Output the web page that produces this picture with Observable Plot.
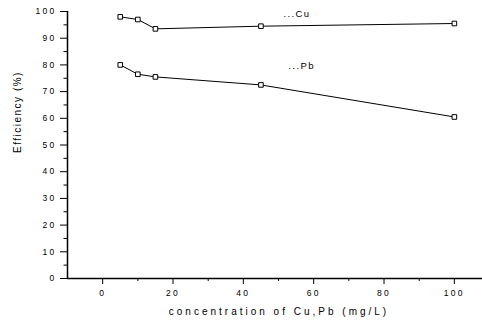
<!DOCTYPE html>
<html>
<head>
<meta charset="utf-8">
<script src="https://cdn.jsdelivr.net/npm/d3@7"></script>
<script src="https://cdn.jsdelivr.net/npm/@observablehq/plot@0.6"></script>
<style>
  html, body { margin: 0; padding: 0; background: #fff; }
  svg text { font-family: "Liberation Sans", Arial, sans-serif; letter-spacing: 2.3px; }
  g.slbl text, .slbl text { letter-spacing: 1.4px; }
  g.xlbl text, .xlbl text { letter-spacing: 3px; }
  g.ylbl text, .ylbl text { letter-spacing: 1.5px; }
</style>
</head>
<body>
<div id="chart"></div>
<script>
const concentration = [5, 10, 15, 45, 100];
const cuEfficiency = [98, 97, 93.5, 94.5, 95.5];
const pbEfficiency = [80, 76.5, 75.5, 72.5, 60.5];
const xTicks = [0, 20, 40, 60, 80, 100];
const xMinor = [10, 30, 50, 70, 90];
const yTicks = [0, 10, 20, 30, 40, 50, 60, 70, 80, 90, 100];
const yMinor = [5, 15, 25, 35, 45, 55, 65, 75, 85, 95];
const seriesLabels = [
  {x: 51.4, y: 99.2, text: "...Cu"},
  {x: 52.8, y: 79.6, text: "...Pb"}
];
const xLabel = "concentration of Cu,Pb (mg/L)";
const yLabel = "Efficiency (%)";

const cu = concentration.map((c, i) => ({c, e: cuEfficiency[i]}));
const pb = concentration.map((c, i) => ({c, e: pbEfficiency[i]}));

const chart = Plot.plot({
  width: 482,
  height: 321,
  marginLeft: 67,
  marginRight: 0,
  marginTop: 11,
  marginBottom: 43,
  style: {background: "#fff", color: "#000", fontFamily: "Liberation Sans, Arial, sans-serif"},
  x: {domain: [-10, 108]},
  y: {domain: [0, 100]},
  marks: [
    Plot.axisX({ticks: xTicks, tickSize: 6, tickPadding: 5, fontSize: 8.5, label: null, tickFormat: d => d}),
    Plot.axisX({ticks: xMinor, tickSize: 3, tickFormat: () => "", label: null}),
    Plot.axisY({ticks: yTicks, tickSize: 7, tickPadding: 4, fontSize: 8.5, label: null, tickFormat: d => d}),
    Plot.axisY({ticks: yMinor, tickSize: 3.5, tickFormat: () => "", label: null}),
    Plot.ruleY([0], {stroke: "#000", strokeWidth: 1.5}),
    Plot.ruleX([-10], {stroke: "#000", strokeWidth: 1.5}),
    Plot.line(cu, {x: "c", y: "e", stroke: "#000", strokeWidth: 1}),
    Plot.line(pb, {x: "c", y: "e", stroke: "#000", strokeWidth: 1}),
    Plot.dot(cu, {x: "c", y: "e", symbol: "square", r: 2.6, fill: "#fff", stroke: "#000", strokeWidth: 1}),
    Plot.dot(pb, {x: "c", y: "e", symbol: "square", r: 2.6, fill: "#fff", stroke: "#000", strokeWidth: 1}),
    Plot.text(seriesLabels, {x: "x", y: "y", text: "text", textAnchor: "start", fontSize: 9.5, fill: "#000", className: "slbl"}),
    Plot.text([xLabel], {frameAnchor: "bottom", lineAnchor: "middle", dy: 33, dx: 4, fontSize: 10, fill: "#000", className: "xlbl"}),
    Plot.text([yLabel], {frameAnchor: "left", lineAnchor: "middle", dx: -50, dy: 8, rotate: -90, fontSize: 10, fill: "#000", className: "ylbl"})
  ]
});
document.getElementById("chart").appendChild(chart);
</script>
</body>
</html>
